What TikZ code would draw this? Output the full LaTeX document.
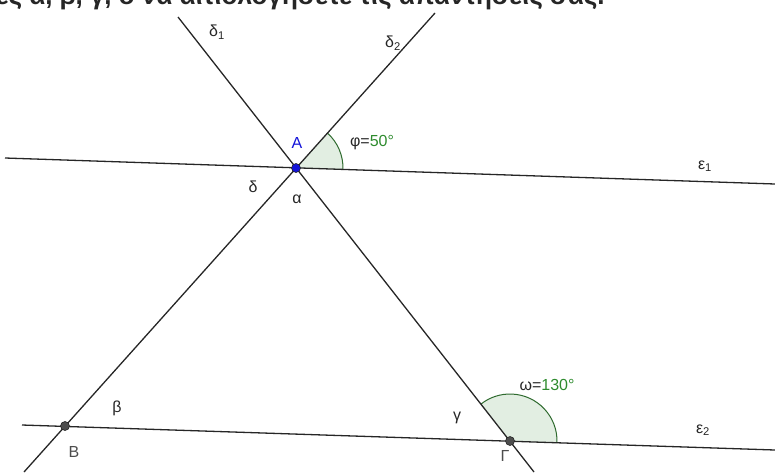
\documentclass[tikz,border=0pt]{standalone}
\usepackage{fontspec}
\setmainfont{Liberation Sans}
\usetikzlibrary{angles,calc}
\definecolor{GeoBlue}{HTML}{1414D9}
\definecolor{GeoGreen}{HTML}{2E8B2E}
\definecolor{GeoArc}{HTML}{2F6B2F}
\definecolor{GeoFill}{HTML}{E2EEE2}
\definecolor{GeoLine}{HTML}{262626}
\definecolor{GeoGray}{HTML}{4D4D4D}
\tikzset{
  geoline/.style={draw=GeoLine,line width=1.3pt},
  geopoint/.style={circle,fill=#1,draw=GeoLine,line width=0.6pt,inner sep=0pt,minimum size=9pt},
  anglemark/.style={draw=GeoArc,fill=GeoFill,line width=1pt,angle radius=47pt},
  lbl/.style={font=\fontsize{16}{18}\selectfont,text=GeoLine,inner sep=0pt}
}

\begin{document}
\begin{tikzpicture}[x=1pt,y=-1pt]
  \useasboundingbox (0,0) rectangle (775,472);
  \clip (0,0) rectangle (775,472);
  % heading, cut by the crop
  \node[anchor=base west,inner sep=0pt,font=\fontsize{26}{30}\bfseries\selectfont,text=GeoLine] (head) at (-4,4)
    {ες α, β, γ, δ να αιτιολογήσετε τις απαντήσεις σας.};

  \coordinate (A) at (296,168);
  \coordinate (B) at (65,426);
  \coordinate (G) at (510,441);
  \coordinate (e1l) at (5,158);
  \coordinate (e1r) at (775,184);
  \coordinate (e2l) at (22,425);
  \coordinate (e2r) at (775,450);
  \coordinate (d1t) at (178,17);
  \coordinate (d1b) at (534,472);
  \coordinate (d2t) at (435,13);
  \coordinate (d2b) at (24,472);

  \pic[anglemark] {angle=e1r--A--d2t};
  \pic[anglemark] {angle=e2r--G--A};

  \draw[geoline] (e1l) -- (e1r);
  \draw[geoline] (e2l) -- (e2r);
  \draw[geoline] (d1t) -- (d1b);
  \draw[geoline] (d2t) -- (d2b);

  \node[geopoint=GeoBlue] (pA) at (A) {};
  \node[geopoint=GeoGray] (pB) at (B) {};
  \node[geopoint=GeoGray] (pG) at (G) {};

  \node[lbl] (ld1) at (217,32) {δ\textsubscript{1}};
  \node[lbl] (ld2) at (393,43) {δ\textsubscript{2}};
  \node[lbl,text=GeoBlue] (lA) at (297,143) {A};
  \node[lbl] (lphi) at (372,143) {φ=\textcolor{GeoGreen}{50°}};
  \node[lbl] (le1) at (705,166) {ε\textsubscript{1}};
  \node[lbl] (ldelta) at (253,187) {δ};
  \node[lbl] (lalpha) at (297,199) {α};
  \node[lbl] (lbeta) at (117,408) {β};
  \node[lbl,text=GeoGray] (lB) at (74,452) {B};
  \node[lbl] (lgamma) at (457,418) {γ};
  \node[lbl,text=GeoGray] (lG) at (505,456) {Γ};
  \node[lbl] (lomega) at (547,385) {ω=\textcolor{GeoGreen}{130°}};
  \node[lbl] (le2) at (703,430) {ε\textsubscript{2}};
\end{tikzpicture}
\end{document}
